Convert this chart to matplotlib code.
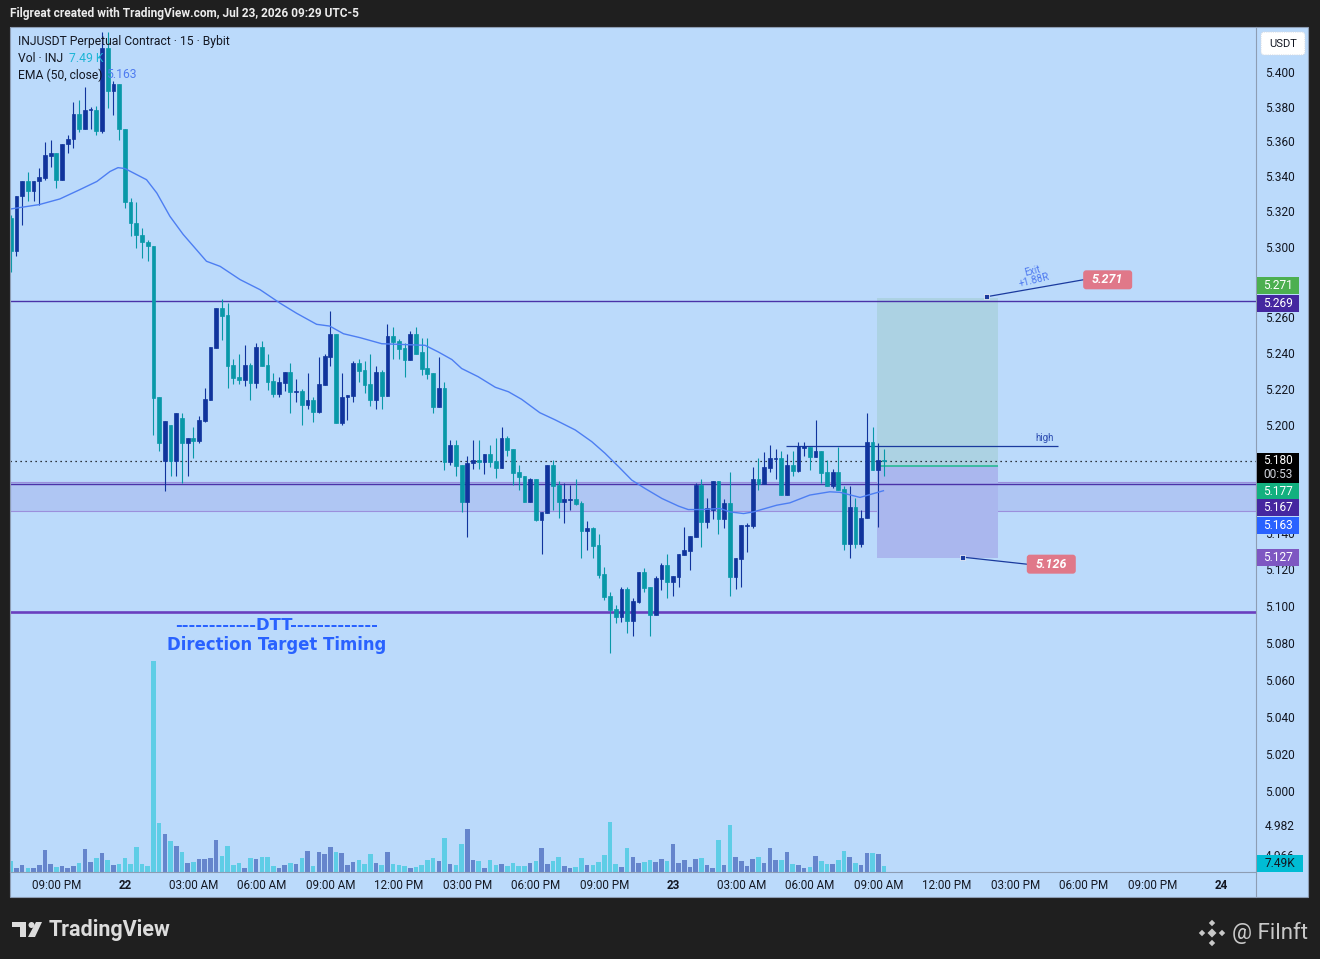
import numpy as np
import matplotlib
matplotlib.use("Agg")
import matplotlib.pyplot as plt
from matplotlib.patches import Rectangle, FancyBboxPatch, Polygon, Circle
from matplotlib.ticker import FixedLocator, FuncFormatter, NullLocator, NullFormatter

plt.rcParams['font.family'] = ['Roboto', 'DejaVu Sans']

# ---------------- data (15-minute candles, INJUSDT) ----------------
opens = [5.3165, 5.2973, 5.3286, 5.3375, 5.3314, 5.3371, 5.3390, 5.3519, 5.3532, 5.3381,
 5.3583, 5.3612, 5.3760, 5.3674, 5.3778, 5.3782, 5.3661, 5.4138, 5.3892, 5.3930,
 5.3674, 5.3252, 5.3135, 5.3064, 5.3025, 5.3004, 5.2154, 5.1796, 5.2000, 5.1796,
 5.2037, 5.1900, 5.1924, 5.1909, 5.2020, 5.2137, 5.2428, 5.2655, 5.2614, 5.2332,
 5.2263, 5.2248, 5.2332, 5.2233, 5.2432, 5.2332, 5.2243, 5.2170, 5.2232, 5.2293,
 5.2183, 5.2189, 5.2109, 5.2137, 5.2072, 5.2220, 5.2378, 5.2504, 5.2011, 5.2152,
 5.2159, 5.2344, 5.2304, 5.2226, 5.2137, 5.2293, 5.2159, 5.2493, 5.2465, 5.2426,
 5.2359, 5.2504, 5.2404, 5.2315, 5.2287, 5.2098, 5.2204, 5.1794, 5.1887, 5.1776,
 5.1572, 5.1785, 5.1802, 5.1794, 5.1837, 5.1798, 5.1761, 5.1926, 5.1865, 5.1735,
 5.1714, 5.1572, 5.1698, 5.1470, 5.1510, 5.1776, 5.1664, 5.1570, 5.1581, 5.1587,
 5.1564, 5.1410, 5.1427, 5.1334, 5.1175, 5.1055, 5.0984, 5.0940, 5.1093, 5.0918,
 5.1022, 5.1186, 5.1104, 5.0951, 5.1148, 5.1224, 5.1131, 5.1159, 5.1279, 5.1301,
 5.1378, 5.1664, 5.1460, 5.1525, 5.1687, 5.1477, 5.1564, 5.1160, 5.1259, 5.1438,
 5.1438, 5.1698, 5.1672, 5.1759, 5.1809, 5.1815, 5.1609, 5.1776, 5.1742, 5.1870,
 5.1876, 5.1820, 5.1853, 5.1737, 5.1659, 5.1737, 5.1642, 5.1339, 5.1542, 5.1339,
 5.1481, 5.1904, 5.1748, 5.1805]

highs = [5.3182, 5.3290, 5.3375, 5.3424, 5.3375, 5.3447, 5.3595, 5.3608, 5.3532, 5.3585,
 5.3636, 5.3825, 5.3839, 5.3916, 5.3797, 5.3801, 5.4229, 5.4229, 5.3949, 5.3930,
 5.3674, 5.3277, 5.3252, 5.3106, 5.3040, 5.3004, 5.2154, 5.2019, 5.2000, 5.2065,
 5.2065, 5.1924, 5.1989, 5.2048, 5.2204, 5.2433, 5.2655, 5.2705, 5.2680, 5.2365,
 5.2393, 5.2443, 5.2344, 5.2456, 5.2465, 5.2393, 5.2286, 5.2263, 5.2293, 5.2344,
 5.2254, 5.2197, 5.2287, 5.2152, 5.2376, 5.2393, 5.2637, 5.2504, 5.2287, 5.2163,
 5.2354, 5.2365, 5.2354, 5.2393, 5.2326, 5.2304, 5.2560, 5.2546, 5.2476, 5.2454,
 5.2521, 5.2546, 5.2482, 5.2482, 5.2287, 5.2376, 5.2237, 5.1915, 5.1915, 5.1776,
 5.1826, 5.1915, 5.1915, 5.1837, 5.1887, 5.1926, 5.1987, 5.1937, 5.1865, 5.1776,
 5.1714, 5.1704, 5.1698, 5.1513, 5.1776, 5.1803, 5.1685, 5.1674, 5.1664, 5.1698,
 5.1575, 5.1465, 5.1432, 5.1394, 5.1214, 5.1077, 5.1006, 5.1104, 5.1104, 5.1042,
 5.1186, 5.1208, 5.1104, 5.1166, 5.1235, 5.1285, 5.1164, 5.1285, 5.1432, 5.1383,
 5.1677, 5.1698, 5.1592, 5.1687, 5.1687, 5.1587, 5.1737, 5.1263, 5.1443, 5.1454,
 5.1765, 5.1815, 5.1850, 5.1887, 5.1865, 5.1853, 5.1837, 5.1853, 5.1904, 5.1904,
 5.1876, 5.2026, 5.1853, 5.1803, 5.1753, 5.1876, 5.1659, 5.1659, 5.1592, 5.1525,
 5.2065, 5.1987, 5.1898, 5.1865]

lows = [5.2858, 5.2949, 5.3125, 5.3257, 5.3257, 5.3239, 5.3381, 5.3456, 5.3334, 5.3381,
 5.3536, 5.3561, 5.3655, 5.3674, 5.3674, 5.3636, 5.3646, 5.3794, 5.3750, 5.3608,
 5.3220, 5.3059, 5.2993, 5.2936, 5.2917, 5.1941, 5.1852, 5.1629, 5.1713, 5.1713,
 5.1677, 5.1716, 5.1816, 5.1900, 5.2016, 5.2137, 5.2428, 5.2471, 5.2205, 5.2228,
 5.2228, 5.2217, 5.2137, 5.2205, 5.2326, 5.2193, 5.2155, 5.2155, 5.2187, 5.2066,
 5.2128, 5.2000, 5.2089, 5.2016, 5.2066, 5.2220, 5.2326, 5.2011, 5.1998, 5.2026,
 5.2128, 5.2239, 5.2178, 5.2104, 5.2087, 5.2087, 5.2159, 5.2365, 5.2365, 5.2267,
 5.2359, 5.2393, 5.2276, 5.2254, 5.2065, 5.2098, 5.1748, 5.1776, 5.1716, 5.1516,
 5.1379, 5.1753, 5.1753, 5.1726, 5.1766, 5.1705, 5.1761, 5.1826, 5.1664, 5.1637,
 5.1572, 5.1572, 5.1466, 5.1285, 5.1510, 5.1525, 5.1483, 5.1456, 5.1525, 5.1553,
 5.1264, 5.1307, 5.1264, 5.1155, 5.1033, 5.0745, 5.0909, 5.0914, 5.0854, 5.0838,
 5.1017, 5.1078, 5.0838, 5.0951, 5.1088, 5.1046, 5.1055, 5.1106, 5.1279, 5.1197,
 5.1378, 5.1323, 5.1427, 5.1475, 5.1396, 5.1429, 5.1057, 5.1095, 5.1106, 5.1297,
 5.1427, 5.1638, 5.1672, 5.1737, 5.1698, 5.1609, 5.1609, 5.1714, 5.1737, 5.1826,
 5.1748, 5.1820, 5.1676, 5.1659, 5.1648, 5.1637, 5.1307, 5.1264, 5.1319, 5.1325,
 5.1481, 5.1748, 5.1432, 5.1716]

closes = [5.2973, 5.3290, 5.3375, 5.3314, 5.3375, 5.3396, 5.3523, 5.3532, 5.3381, 5.3585,
 5.3612, 5.3760, 5.3674, 5.3782, 5.3788, 5.3661, 5.4138, 5.3892, 5.3930, 5.3674,
 5.3252, 5.3135, 5.3064, 5.3025, 5.3002, 5.2148, 5.1898, 5.2019, 5.1796, 5.2065,
 5.1898, 5.1924, 5.1911, 5.2026, 5.2143, 5.2433, 5.2655, 5.2608, 5.2326, 5.2261,
 5.2248, 5.2332, 5.2233, 5.2432, 5.2326, 5.2239, 5.2170, 5.2235, 5.2293, 5.2183,
 5.2189, 5.2109, 5.2137, 5.2072, 5.2224, 5.2382, 5.2504, 5.2011, 5.2152, 5.2163,
 5.2343, 5.2298, 5.2220, 5.2137, 5.2293, 5.2159, 5.2493, 5.2460, 5.2421, 5.2359,
 5.2504, 5.2397, 5.2309, 5.2283, 5.2098, 5.2204, 5.1794, 5.1887, 5.1772, 5.1572,
 5.1785, 5.1802, 5.1792, 5.1837, 5.1794, 5.1761, 5.1926, 5.1859, 5.1733, 5.1711,
 5.1572, 5.1698, 5.1470, 5.1513, 5.1776, 5.1659, 5.1570, 5.1587, 5.1587, 5.1559,
 5.1410, 5.1427, 5.1328, 5.1170, 5.1049, 5.0978, 5.0940, 5.1093, 5.0918, 5.1028,
 5.1186, 5.1100, 5.0951, 5.1153, 5.1224, 5.1131, 5.1164, 5.1285, 5.1307, 5.1383,
 5.1664, 5.1460, 5.1537, 5.1687, 5.1477, 5.1564, 5.1160, 5.1263, 5.1443, 5.1443,
 5.1698, 5.1672, 5.1765, 5.1815, 5.1815, 5.1609, 5.1776, 5.1742, 5.1881, 5.1881,
 5.1820, 5.1853, 5.1731, 5.1659, 5.1737, 5.1637, 5.1339, 5.1542, 5.1339, 5.1481,
 5.1904, 5.1748, 5.1803, 5.1800]

volumes_k = [13.8, 5.4, 8.8, 5.4, 5.4, 8.8, 27.5, 10.4, 6.3, 7.5,
 5.4, 7.5, 11.3, 28.8, 12.5, 17.5, 23.8, 15.0, 8.8, 10.4,
 17.5, 10.4, 31.3, 10.4, 7.5, 263.8, 61.3, 47.5, 38.8, 32.9,
 25.0, 11.3, 12.5, 16.3, 16.3, 17.5, 40.0, 20.0, 32.5, 8.8,
 11.3, 5.0, 17.5, 16.3, 18.8, 18.8, 7.5, 5.0, 8.8, 11.3,
 10.0, 17.5, 26.3, 7.5, 25.0, 22.5, 31.3, 25.0, 23.8, 8.8,
 12.5, 15.0, 10.0, 22.5, 11.3, 8.8, 25.0, 10.0, 8.8, 7.5,
 5.0, 6.3, 8.8, 15.0, 17.5, 13.8, 42.5, 10.4, 8.8, 35.0,
 53.8, 15.0, 13.8, 5.0, 15.0, 8.8, 10.0, 7.5, 11.3, 7.5,
 7.5, 11.3, 13.8, 30.0, 10.0, 13.8, 18.8, 7.5, 5.0, 6.3,
 17.5, 8.8, 8.8, 12.5, 21.3, 62.5, 10.0, 6.3, 30.0, 18.8,
 11.3, 12.5, 15.0, 12.5, 16.3, 13.8, 35.0, 11.3, 15.0, 6.3,
 16.3, 17.5, 8.8, 5.0, 40.0, 8.8, 58.8, 18.8, 13.8, 7.5,
 16.3, 18.8, 11.3, 30.0, 15.0, 15.0, 25.0, 10.0, 8.8, 5.0,
 6.3, 20.0, 13.8, 10.0, 10.0, 15.0, 26.3, 18.8, 11.3, 8.8,
 23.8, 23.8, 22.5, 7.49]

# EMA(50, close) (bar position, value)
ema_pos = [0, 5.0, 8.6, 12.1, 15.1, 17.4, 18.8, 20.0, 23.8, 25.6, 27.9, 30.2, 34.3, 36.7,
 40.2, 43.7, 47.2, 50.1, 53.6, 55.9, 58.3, 61.2, 65.0, 72.6, 74.9, 77.3, 79.0, 81.9,
 84.9, 87.2, 89.5, 92.7, 95.4, 98.9, 101.8, 104.1, 106.5, 108.8, 111.1, 114.1, 117.0,
 118.7, 121.1, 124.3, 126.0, 128.4, 130.1, 134.2, 136.5, 140.0, 143.5, 145.3, 148.8, 152.9]
ema_vals = [5.3214, 5.3239, 5.3271, 5.3324, 5.3371, 5.3428, 5.3450, 5.3445, 5.3381, 5.3305,
 5.3172, 5.3070, 5.2917, 5.2888, 5.2813, 5.2756, 5.2680, 5.2623, 5.2561, 5.2551, 5.2508,
 5.2486, 5.2452, 5.2443, 5.2406, 5.2363, 5.2313, 5.2267, 5.2208, 5.2183, 5.2141, 5.2066,
 5.2026, 5.1970, 5.1905, 5.1841, 5.1766, 5.1692, 5.1646, 5.1590, 5.1548, 5.1529, 5.1529,
 5.1535, 5.1516, 5.1507, 5.1516, 5.1553, 5.1566, 5.1609, 5.1627, 5.1624, 5.1596, 5.1633]

time_ticks = [8, 20, 32, 44, 56, 68, 80, 92, 104, 116, 128, 140, 152, 164, 176, 188, 200, 212]
time_labels = ['09:00 PM', '22', '03:00 AM', '06:00 AM', '09:00 AM', '12:00 PM', '03:00 PM',
               '06:00 PM', '09:00 PM', '23', '03:00 AM', '06:00 AM', '09:00 AM', '12:00 PM',
               '03:00 PM', '06:00 PM', '09:00 PM', '24']
day_labels = ['22', '23', '24']
# visible price-scale ticks (5.280, 5.180 and 5.160 sit fully under the value badges)
price_ticks = [5.400, 5.380, 5.360, 5.340, 5.320, 5.300, 5.260, 5.240, 5.220, 5.200,
               5.140, 5.120, 5.100, 5.080, 5.060, 5.040, 5.020, 5.000, 4.982, 4.966]

resistance = 5.269
zone_low, zone_high, zone_line = 5.152, 5.1683, 5.167
support = 5.0967
last_price = 5.180
high_level = 5.188
high_start, high_end = 135.8, 183.5
entry, target, stop = 5.177, 5.271, 5.126
pos_start, pos_end = 151.8, 172.9
exit_anchor = (170.9, 5.2716)
stop_anchor = (166.8, 5.1267)
ema_last = 5.163
vol_last = 7.49
countdown = '00:53'

# ---------------- figure ----------------
W, H = 1320, 959
fig = plt.figure(figsize=(W / 100, H / 100), dpi=100)
fig.patch.set_facecolor('#1f1f1f')

BG = '#bbdafb'
BORDER = '#8d9db3'
TXT = '#131722'
UP = '#10349c'
DN = '#0898a8'
VUP = '#6585cc'
VDN = '#5ecde6'

L, R, T, B = 10, 1256, 28, 872
rect = [L / W, 1 - B / H, (R - L) / W, (B - T) / H]

bgax = fig.add_axes([0, 0, 1, 1], zorder=0)
bgax.set_xlim(0, W); bgax.set_ylim(H, 0); bgax.axis('off')
bgax.add_patch(Rectangle((10, 27), 1298, 870, fc=BG, ec='none'))

vax = fig.add_axes(rect, zorder=1)
vax.patch.set_visible(False)
ax = fig.add_axes(rect, zorder=2)
ax.patch.set_visible(False)

xlim = (-0.12, 218.17)
for a in (vax, ax):
    a.set_xlim(*xlim)
    for s in a.spines.values():
        s.set_visible(False)

# volume
idx = np.arange(len(opens))
o = np.array(opens); c = np.array(closes); hi = np.array(highs); lo = np.array(lows)
up = c >= o
vax.bar(idx, volumes_k, width=0.8, color=np.where(up, VUP, VDN), linewidth=0, zorder=2)
vax.set_ylim(0, 1055)
vax.set_yticks([]); vax.set_xticks([])

# price axes
ax.set_yscale('log')
ax.set_ylim(4.9568, 5.4255)
ax.yaxis.set_major_locator(FixedLocator(price_ticks))
ax.yaxis.set_major_formatter(FuncFormatter(lambda v, p: f'{v:.3f}'))
ax.yaxis.set_minor_locator(NullLocator())
ax.yaxis.set_minor_formatter(NullFormatter())
ax.yaxis.tick_right()
ax.tick_params(axis='y', length=0, pad=6.3, labelsize=8.6, labelcolor=TXT)
ax.set_xticks(time_ticks)
ax.set_xticklabels(time_labels)
ax.tick_params(axis='x', length=0, pad=5.3, labelsize=8.4, labelcolor=TXT)
for t in ax.get_xticklabels():
    if t.get_text() in day_labels:
        t.set_fontweight('bold')

# zone, lines
ax.axhspan(zone_low, zone_high, facecolor='#afc6f3', edgecolor='#9b8fdc', lw=0.8, zorder=1)
ax.axhline(zone_line, color='#4a32a8', lw=1.0, zorder=2)
ax.axhline(resistance, color='#4a32a8', lw=1.0, zorder=2)
ax.axhline(support, color='#6a3fbf', lw=1.9, zorder=2)
ax.axhline(last_price, color='#000000', lw=0.9, ls=(0, (1, 3)), zorder=2)

# position tool
ax.add_patch(Rectangle((pos_start, entry), pos_end - pos_start, target - entry,
                       fc='#acd2e3', ec='none', zorder=1.5))
ax.add_patch(Rectangle((pos_start, stop), pos_end - pos_start, entry - stop,
                       fc='#aab7ee', ec='none', zorder=1.5))
ax.hlines(entry, pos_start, pos_end, color='#1db88e', lw=1.1, zorder=3)
ax.hlines(high_level, high_start, high_end, color='#1a3a9e', lw=0.9, zorder=3)
ax.text(181.1, 5.1927, 'high', color='#2b4bb0', fontsize=7, ha='center', va='center', zorder=6)

# candles
col = np.where(up, UP, DN)
ax.vlines(idx, lo, hi, colors=col, linewidth=0.8, zorder=4)
blo = np.minimum(o, c); bhi = np.maximum(o, c)
ax.bar(idx, bhi - blo, bottom=blo, width=0.66, color=col, edgecolor=col, linewidth=0.5, zorder=5)

# EMA
ax.plot(ema_pos, ema_vals, color='#4d7ef2', lw=1.0, zorder=6)

def to_px(xd, yd):
    X, Y = ax.transData.transform((xd, yd))
    return X, H - Y

ov = fig.add_axes([0, 0, 1, 1], zorder=5)
ov.set_xlim(0, W); ov.set_ylim(H, 0); ov.axis('off')

# exit / stop markers, connectors and labels
ex, ey = to_px(*exit_anchor)
sx, sy = to_px(*stop_anchor)
tbx, tby = ex + 97, ey - 17
sbx, sby = sx + 64, sy + 7
ov.plot([ex, tbx], [ey, tby], color='#1a3a9e', lw=0.9, zorder=3)
ov.plot([sx, sbx], [sy, sby], color='#1a3a9e', lw=0.9, zorder=3)
for (mx, my) in [(ex, ey), (sx, sy)]:
    ov.add_patch(Rectangle((mx - 2.5, my - 2.5), 5, 5, fc='#1a3a9e', ec='white', lw=0.5, zorder=4))
for (bx, by, txt) in [(tbx, tby, f'{target:.3f}'), (sbx, sby, f'{stop:.3f}')]:
    ov.add_patch(FancyBboxPatch((bx, by - 9.5), 49, 19, boxstyle='round,pad=0,rounding_size=3',
                                fc='#e07889', ec='none', zorder=4))
    ov.text(bx + 24.5, by, txt, color='white', fontsize=9, fontweight='bold', fontstyle='italic',
            ha='center', va='center', zorder=5)
ov.text(ex + 47, ey - 21, 'Exit\n+1.88R', rotation=14, ha='center', va='center', fontsize=7.2,
        color='#4f7af0', linespacing=0.9, zorder=5)

# DTT text
dx, dy = to_px(46.6, 5.0896)
ov.text(dx, dy, '------------DTT-------------', color='#2962ff', fontsize=11.8, fontweight='bold',
        family=['DejaVu Sans'], ha='center', va='center', zorder=3)
dx2, dy2 = to_px(46.6, 5.0787)
ov.text(dx2, dy2, 'Direction Target Timing', color='#2962ff', fontsize=11.9, fontweight='bold',
        family=['DejaVu Sans'], ha='center', va='center', zorder=3)

# legend
FS = 8.7
ov.text(18, 41, 'INJUSDT Perpetual Contract · 15 · Bybit', color=TXT, fontsize=FS, va='center', ha='left')
ov.text(18, 58, 'Vol · INJ', color=TXT, fontsize=FS, va='center', ha='left')
ov.text(69, 58, f'{vol_last:.2f} K', color='#1cb5d6', fontsize=FS, va='center', ha='left')
ov.text(18, 75, 'EMA (50, close)', color=TXT, fontsize=FS, va='center', ha='left')
ov.text(106, 75, f'{ema_last:.3f}', color='#4f7cf0', fontsize=FS, va='center', ha='left')

# borders
ov.add_patch(Rectangle((10, 27), 1298, 870, fill=False, ec=BORDER, lw=0.8))
ov.plot([1256, 1256], [27, 897], color=BORDER, lw=0.8)
ov.plot([10, 1256], [872, 872], color=BORDER, lw=0.8)

# price-scale badges
def badge(yc, txt, fc, tc='white', w=42, h=17):
    ov.add_patch(Rectangle((1257, yc - h / 2), w, h, fc=fc, ec='none', zorder=6))
    ov.text(1257 + w / 2, yc, txt, color=tc, fontsize=8.6, ha='center', va='center', zorder=7)

badges = [(target, '#4caf50', -12), (resistance, '#4527a0', 1.7), (entry, '#12b07f', 25.8),
          (zone_line, '#4527a0', 23.9), (ema_last, '#2962ff', 33.9), (5.127, '#7e57c2', 1.2)]
for val, fc, off in badges:
    _, yv = to_px(0, val)
    badge(yv + off, f'{val:.3f}', fc)
_, yl = to_px(0, last_price)
ov.add_patch(Rectangle((1257, yl - 7.5), 42, 30, fc='#000000', ec='none', zorder=6))
ov.text(1278, yl, f'{last_price:.3f}', color='white', fontsize=8.6, ha='center', va='center', zorder=7)
ov.text(1278, yl + 14, countdown, color='#d1d4dc', fontsize=8.6, ha='center', va='center', zorder=7)
yv = H - vax.transData.transform((0, vol_last))[1]
ov.add_patch(Rectangle((1257, yv - 11.5), 46, 17, fc='#00bcd4', ec='none', zorder=6))
ov.text(1280, yv - 3, f'{vol_last:.2f}K', color=TXT, fontsize=8.6, ha='center', va='center', zorder=7)

# USDT box
ov.add_patch(FancyBboxPatch((1261, 32), 44, 23, boxstyle='round,pad=0,rounding_size=3',
                            fc='white', ec='#d5dbe4', lw=0.8, ls=(0, (1, 1)), zorder=6))
ov.text(1283, 44, 'USDT', color=TXT, fontsize=8, ha='center', va='center', zorder=7)

# header
ov.text(10, 14, 'Filgreat created with TradingView.com, Jul 23, 2026 09:29 UTC-5', color='#ececec',
        fontsize=8.6, fontweight='bold', ha='left', va='center')

# footer: TradingView logo
LG = '#dcdcdc'
ov.add_patch(Rectangle((12, 922), 14, 5, fc=LG, ec='none'))
ov.add_patch(Rectangle((20, 922), 6, 15, fc=LG, ec='none'))
ov.add_patch(Circle((31.5, 925), 3, fc=LG, ec='none'))
ov.add_patch(Polygon([(36, 922), (42, 922), (35, 937), (28, 937)], closed=True, fc=LG, ec='none'))
ov.text(49, 930, 'TradingView', color=LG, fontsize=15.5, fontweight='bold', ha='left', va='center')

# footer: Filnft
ICON = '#c8c8c8'
def diamond(cx, cy, r):
    ov.add_patch(Polygon([(cx, cy - r), (cx + r, cy), (cx, cy + r), (cx - r, cy)], closed=True,
                         fc=ICON, ec='none'))
diamond(1212, 933, 4.5)
for ddx, ddy in [(0, -10), (0, 10), (-10, 0), (10, 0)]:
    diamond(1212 + ddx, 933 + ddy, 3.2)
ov.text(1232, 933, '@ Filnft', color=ICON, fontsize=16, ha='left', va='center')

fig.savefig('out.png', dpi=100, facecolor=fig.get_facecolor())
